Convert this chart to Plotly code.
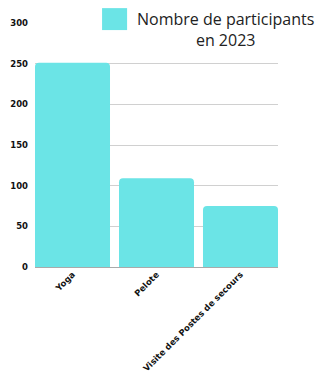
import plotly.graph_objects as go

categories = ["Yoga", "Pelote", "Visite des Postes de secours"]
values = [251, 109, 75]
series_name = "Nombre de participants<br>en 2023"
y_ticks = [0, 50, 100, 150, 200, 250, 300]

color = "#6be4e6"
gap = 0.107

fig = go.Figure()
fig.add_trace(go.Bar(
    x=categories, y=values, name=series_name,
    marker=dict(color=color, cornerradius=4, line=dict(width=0)),
    showlegend=False,
))

fig.update_layout(
    width=318, height=374,
    margin=dict(l=35, r=40, t=23, b=107),
    plot_bgcolor="white", paper_bgcolor="white",
    bargap=gap,
    font=dict(family="Open Sans", color="#222"),
    xaxis=dict(
        range=[-0.5 + gap / 2, len(categories) - 0.5 - gap / 2],
        tickangle=-45, tickfont=dict(family="DejaVu Sans", size=8.5, color="#111", weight="bold"),
        showgrid=False, ticks="", showline=False, automargin=False,
    ),
    yaxis=dict(
        range=[0, 300], tickvals=y_ticks,
        tickfont=dict(family="DejaVu Sans", size=8.5, color="#111", weight="bold"),
        gridcolor="#d0d0d0", gridwidth=1, zeroline=True, zerolinecolor="#aaaaaa",
        zerolinewidth=1, ticks="", showline=False, ticklabelstandoff=6, automargin=False,
    ),
)

# legend (drawn manually to match reference layout)
fig.add_shape(type="rect", xref="paper", yref="paper",
              x0=0.276, x1=0.379, y0=1.061, y1=0.971,
              fillcolor=color, line=dict(width=0), layer="above")
fig.add_annotation(xref="paper", yref="paper", x=0.786, y=1.07,
                   text=series_name, showarrow=False, align="center",
                   xanchor="center", yanchor="top",
                   font=dict(family="Open Sans", size=16, color="#222"))

fig.write_html("out.html", config={"displayModeBar": False},
               post_script="document.body.style.margin='0';document.body.style.overflow='hidden';")
